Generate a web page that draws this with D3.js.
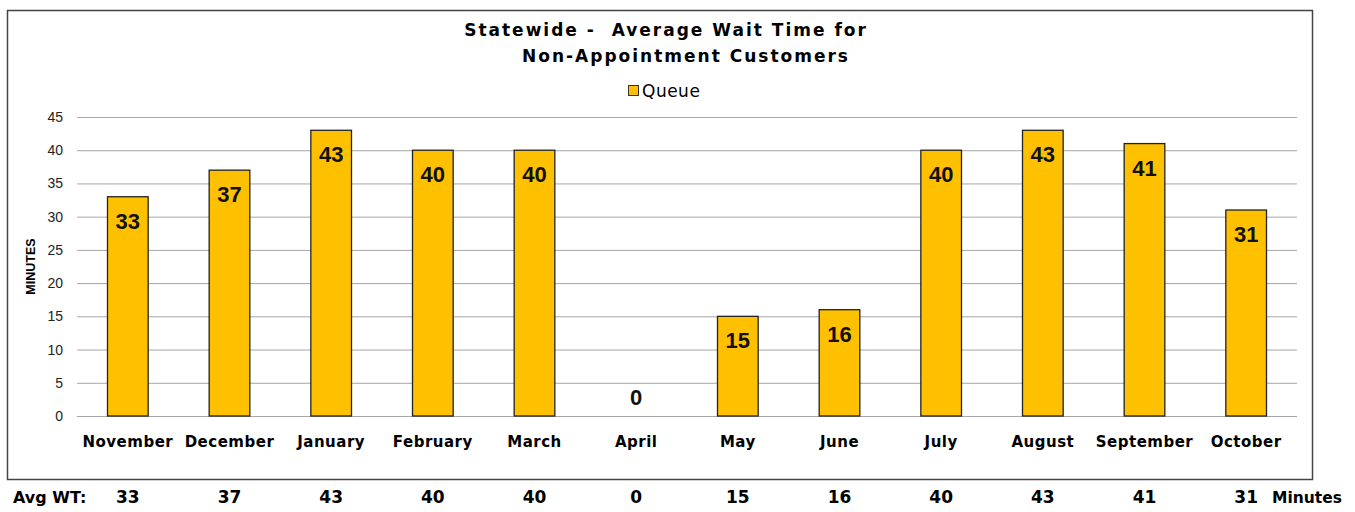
<!DOCTYPE html>
<meta charset="utf-8">
<html>
<head>
<title>Average Wait Time</title>
<script src="https://cdn.jsdelivr.net/npm/d3@7"></script>
<style>
  body { margin: 0; background: #fff; }
  text { font-family: "DejaVu Sans", Lato, sans-serif; }
</style>
</head>
<body>
<script>
var months = ["November", "December", "January", "February", "March", "April",
              "May", "June", "July", "August", "September", "October"]
var queue = [33, 37, 43, 40, 40, 0, 15, 16, 40, 43, 41, 31]
var yTicks = [0, 5, 10, 15, 20, 25, 30, 35, 40, 45]
var titleLines = ["Statewide -  Average Wait Time for", "Non-Appointment Customers"]
var seriesName = "Queue"

var W = 1355, H = 512
var svg = d3.select("body").append("svg").attr("width", W).attr("height", H)

// chart frame
svg.append("rect").attr("x", 7.5).attr("y", 10.5).attr("width", 1305).attr("height", 469)
   .attr("fill", "#fff").attr("stroke", "#444").attr("stroke-width", 1.5)

var margin = {left: 77, right: 58, top: 117, bottom: 96}
var x = d3.scaleBand().domain(months).range([margin.left, W - margin.right]).paddingInner(0.6).paddingOuter(0.3)
var y = d3.scaleLinear().domain([0, 45]).range([H - margin.bottom, margin.top])

// title
svg.append("text").attr("x", 666).attr("y", 36).attr("text-anchor", "middle")
   .style("font-size", "17px").style("font-weight", "bold").style("letter-spacing", "2px")
   .attr("xml:space", "preserve").text(titleLines[0])
svg.append("text").attr("x", 686).attr("y", 62).attr("text-anchor", "middle")
   .style("font-size", "17px").style("font-weight", "bold").style("letter-spacing", "2px")
   .text(titleLines[1])

// legend
svg.append("rect").attr("x", 628.5).attr("y", 85.5).attr("width", 10).attr("height", 10)
   .attr("fill", "#FFC000").attr("stroke", "#333")
svg.append("text").attr("x", 642).attr("y", 97).style("font-size", "17px").style("letter-spacing", "0.5px")
   .text(seriesName)

// grid + y axis
var yAxis = d3.axisLeft(y).tickValues(yTicks).tickSize(-(W - margin.right - margin.left)).tickPadding(14)
var ga = svg.append("g").attr("transform", "translate(" + margin.left + ",0)").call(yAxis)
ga.select(".domain").remove()
ga.selectAll(".tick line").attr("stroke", "#a6a6a6").attr("stroke-width", 1)
ga.selectAll(".tick text").style("font-family", "'Liberation Sans', Arial, sans-serif")
  .style("font-size", "14px").attr("fill", "#222")

svg.append("text").attr("transform", "translate(35," + y(22.5) + ") rotate(-90)")
   .attr("text-anchor", "middle").style("font-size", "12.5px").style("font-weight", "bold")
   .style("font-family", "'Liberation Sans', Arial, sans-serif").text("MINUTES")

// bars
svg.selectAll("rect.bar").data(queue).enter().append("rect").attr("class", "bar")
   .attr("x", (d, i) => x(months[i]))
   .attr("y", d => y(d))
   .attr("width", x.bandwidth())
   .attr("height", d => y(0) - y(d))
   .attr("fill", "#FFC000").attr("stroke", "#222").attr("stroke-width", 1.3)
   .style("display", d => d > 0 ? null : "none")

// data labels
svg.selectAll("text.lbl").data(queue).enter().append("text").attr("class", "lbl")
   .attr("x", (d, i) => x(months[i]) + x.bandwidth() / 2)
   .attr("y", d => d > 0 ? y(d) + 32 : y(d) - 11)
   .attr("text-anchor", "middle")
   .style("font-family", "'Liberation Sans', Arial, sans-serif")
   .style("font-size", "22px").style("font-weight", "bold").attr("fill", "#111")
   .text(d => d)

// x axis labels
svg.selectAll("text.month").data(months).enter().append("text").attr("class", "month")
   .attr("x", d => x(d) + x.bandwidth() / 2).attr("y", 447)
   .attr("text-anchor", "middle").style("font-size", "15px").style("font-weight", "bold")
   .style("letter-spacing", "0.5px")
   .text(d => d)

// bottom summary row
svg.append("text").attr("x", 13).attr("y", 503).style("font-size", "16px").style("font-weight", "bold")
   .text("Avg WT:")
svg.selectAll("text.avg").data(queue).enter().append("text").attr("class", "avg")
   .attr("x", (d, i) => x(months[i]) + x.bandwidth() / 2).attr("y", 503)
   .attr("text-anchor", "middle").style("font-size", "17px").style("font-weight", "bold")
   .text(d => d)
svg.append("text").attr("x", 1272).attr("y", 503).style("font-size", "15.5px").style("font-weight", "bold")
   .text("Minutes")
</script>
</body>
</html>
